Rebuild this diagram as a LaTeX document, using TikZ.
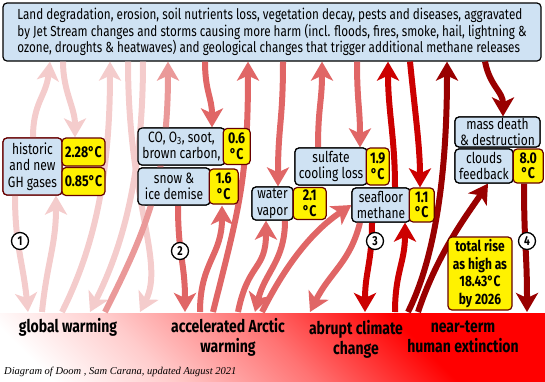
\documentclass[tikz,border=0pt]{standalone}
\usepackage{fontspec}
\setmainfont[FakeStretch=0.8]{Fira Sans}
\setsansfont[FakeStretch=0.8]{Fira Sans}
\newfontfamily\sigfont{Liberation Serif}
\usetikzlibrary{arrows.meta,positioning}
\definecolor{lr3}{HTML}{F4CCCC}
\definecolor{lr2}{HTML}{EA9999}
\definecolor{lr1}{HTML}{E06666}
\definecolor{dr1}{HTML}{CC0000}
\definecolor{dr2}{HTML}{990000}
\definecolor{dr3}{HTML}{660000}
\definecolor{lb3}{HTML}{CFE2F3}
\pgfdeclareverticalshading{stripfade}{100bp}{color(0bp)=(white); color(35bp)=(white); color(42bp)=(red!20!white); color(50.5bp)=(red!55!white); color(59bp)=(red); color(100bp)=(red)}
\newcommand{\bx}{\fontsize{15}{16.5}\selectfont}
\tikzset{
  feed/.style={line width=6pt, -{Stealth[length=19pt, width=22pt, inset=5pt]}},
  gw/.style={feed, draw=lr3},
  aw/.style={feed, draw=lr1},
  ac/.style={feed, draw=dr1},
  hx/.style={feed, draw=dr2},
  cause/.style={draw=black, fill=lb3, rounded corners=4pt, line width=1.2pt, align=center, inner sep=1pt, font=\bx},
  temp/.style={draw=dr3, fill=yellow, rounded corners=4pt, line width=1.2pt, align=center, inner sep=1pt, font=\fontsize{15.5}{15.5}\selectfont\bfseries},
  stage/.style={align=center, inner sep=0pt, font=\fontsize{17.5}{20}\selectfont\bfseries},
  num/.style={circle, draw=black, line width=1.3pt, fill=white, inner sep=0pt, minimum size=17pt, font=\fontsize{13}{13}\selectfont\bfseries},
}

\begin{document}
\begin{tikzpicture}[x=1pt, y=-1pt]
  \useasboundingbox (0,0) rectangle (545,381);
  % red band at the bottom
  \begin{scope}
    \clip (0,313) rectangle (545,381);
    \shade[shading=stripfade, shading angle=-45] (272,347) +(-300,-300) rectangle +(300,300);
  \end{scope}
  \coordinate (ground) at (0,312);

  \node[cause, minimum width=538pt, minimum height=58pt, font=\fontsize{14.6}{16.5}\selectfont, align=left] (banner) at (272,32) {Land degradation, erosion, soil nutrients loss, vegetation decay, pests and diseases, aggravated\\by Jet Stream changes and storms causing more harm (incl. floods, fires, smoke, hail, lightning \&\\ozone, droughts \& heatwaves) and geological changes that trigger additional methane releases};

  \node[cause, draw=dr3, minimum width=59pt, minimum height=57pt] (hist) at (32.5,166.5) {historic\\and new\\GH gases};
  \node[cause, minimum width=87pt, minimum height=37pt] (co) at (181.5,146.5) {CO, O\textsubscript{3}, soot,\\brown carbon,};
  \node[cause, minimum width=72pt, minimum height=37pt] (snow) at (174,186.5) {snow \&\\ice demise};
  \node[cause, minimum width=41pt, minimum height=33pt] (water) at (272.5,203.5) {water\\vapor};
  \node[cause, minimum width=72pt, minimum height=37pt] (sulfate) at (331,166.5) {sulfate\\cooling loss};
  \node[cause, minimum width=58pt, minimum height=34pt] (seafloor) at (381,205) {seafloor\\methane};
  \node[cause, minimum width=85pt, minimum height=30pt] (mass) at (497.5,132) {mass death\\\& destruction};
  \node[cause, minimum width=58pt, minimum height=34pt] (clouds) at (484,166) {clouds\\feedback};

  % feedback arrows, lightest first
  \draw[gw] (hist.north -| 33,0) .. controls +(0,-35) and +(-4,35) .. (banner.south -| 50,0);
  \draw[gw] (banner.south -| 63,0) .. controls +(0,30) and +(0,-30) .. (hist.north -| 75,0);
  \draw[gw] (hist.south -| 15,0) .. controls +(0,50) and +(-5,-50) .. (ground -| 28,0);
  \draw[gw] (ground -| 42,0) .. controls +(5,-50) and +(0,50) .. (hist.south -| 56,0);
  \draw[gw] (ground -| 62,0) .. controls +(30,-60) and +(0,120) .. (banner.south -| 110,0);
  \draw[gw] (banner.south -| 143,0) .. controls +(0,120) and +(30,-60) .. (ground -| 90,0);
  \draw[gw] (banner.south -| 128,0) .. controls +(0,140) and +(25,-50) .. (ground -| 140,0);
  \draw[gw, draw=lr2] (ground -| 105,0) .. controls +(40,-80) and +(0,120) .. (banner.south -| 168,0);

  \draw[aw] (banner.south -| 205,0) .. controls +(0,30) and +(0,-30) .. (co.north -| 212,0);
  \draw[aw] (snow.south -| 178,0) .. controls +(0,50) and +(0,-50) .. (ground -| 185,0);
  \draw[aw] (ground -| 200,0) .. controls +(0,-50) and +(0,50) .. (snow.south -| 222,0);
  \draw[aw] (ground -| 213,0) .. controls +(25,-100) and +(0,120) .. (banner.south -| 248,0);
  \draw[aw] (banner.south -| 283,0) .. controls +(0,60) and +(0,-60) .. (water.north -| 278,0);
  \draw[aw] (ground -| 238,0) .. controls +(10,-50) and +(0,50) .. (water.south -| 266,0);
  \draw[aw] (water.south -| 285,0) .. controls +(0,40) and +(10,-40) .. (ground -| 255,0);
  \draw[aw] (sulfate.north -| 318,0) .. controls +(0,-40) and +(0,40) .. (banner.south -| 322,0);
  \draw[aw] (banner.south -| 357,0) .. controls +(0,40) and +(0,-40) .. (sulfate.north -| 360,0);
  \draw[aw] (ground -| 262,0) .. controls +(30,-60) and +(-30,20) .. (seafloor.west);
  \draw[aw] (seafloor.south -| 360,0) .. controls +(-10,40) and +(20,-40) .. (ground -| 310,0);

  \draw[ac] (seafloor.north -| 395,0) .. controls +(0,-50) and +(0,50) .. (banner.south -| 388,0);
  \draw[ac] (banner.south -| 410,0) .. controls +(5,50) and +(0,-40) .. (seafloor.north -| 420,0);
  \draw[ac] (seafloor.south -| 372,0) .. controls +(0,40) and +(0,-40) .. (ground -| 365,0);
  \draw[ac] (ground -| 395,0) .. controls +(0,-40) and +(0,40) .. (seafloor.south -| 405,0);

  \draw[hx] (ground -| 408,0) .. controls +(30,-60) and +(0,100) .. (banner.south -| 447,0);
  \draw[hx] (banner.south -| 485,0) .. controls +(5,25) and +(0,-25) .. (mass.north -| 503,0);
  \draw[hx] (ground -| 418,0) .. controls +(20,-60) and +(-20,30) .. (clouds.south -| 488,0);
  \draw[hx] (clouds.south -| 524,0) .. controls +(0,60) and +(0,-60) .. (ground -| 527,0);

  % boxes drawn again on top of the arrows
  \node[cause, draw=dr3, minimum width=59pt, minimum height=57pt] at (hist) {historic\\and new\\GH gases};
  \node[temp, minimum width=43pt, minimum height=28pt] (t228) at (83.5,152) {2.28°C};
  \node[temp, minimum width=43pt, minimum height=28pt] (t085) at (83.5,181.5) {0.85°C};
  \node[cause, minimum width=87pt, minimum height=37pt] at (co) {CO, O\textsubscript{3}, soot,\\brown carbon,};
  \node[temp, minimum width=27pt, minimum height=36pt, right=-3pt of co] (t06) {0.6\\°C};
  \node[cause, minimum width=72pt, minimum height=37pt] at (snow) {snow \&\\ice demise};
  \node[temp, minimum width=29pt, minimum height=35pt, right=-2pt of snow] (t16) {1.6\\°C};
  \node[cause, minimum width=41pt, minimum height=33pt] at (water) {water\\vapor};
  \node[temp, minimum width=33pt, minimum height=32pt, right=-1pt of water] (t21) {2.1\\°C};
  \node[cause, minimum width=72pt, minimum height=37pt] at (sulfate) {sulfate\\cooling loss};
  \node[temp, minimum width=23pt, minimum height=37pt, right=-2pt of sulfate] (t19) {1.9\\°C};
  \node[cause, minimum width=58pt, minimum height=34pt] at (seafloor) {seafloor\\methane};
  \node[temp, minimum width=25pt, minimum height=34pt, right=-2pt of seafloor] (t11) {1.1\\°C};
  \node[cause, minimum width=85pt, minimum height=30pt] at (mass) {mass death\\\& destruction};
  \node[cause, minimum width=58pt, minimum height=34pt] at (clouds) {clouds\\feedback};
  \node[temp, minimum width=30pt, minimum height=34pt, right=-1pt of clouds] (t80) {8.0\\°C};
  \node[temp, minimum width=64pt, minimum height=73pt, font=\fontsize{15}{17.5}\selectfont\bfseries] (total) at (480,273.5) {total rise\\as high as\\18.43°C\\by 2026};

  \node[num] (n1) at (20,241) {1};
  \node[num] (n2) at (180,251) {2};
  \node[num] (n3) at (375,241) {3};
  \node[num] (n4) at (527,241) {4};

  \node[stage] (gwl) at (68,327) {global warming};
  \node[stage] (awl) at (228,337) {accelerated Arctic\\warming};
  \node[stage] (acl) at (356,339) {abrupt climate\\change};
  \node[stage] (hxl) at (463,337) {near-term\\human extinction};
  \node[anchor=west, inner sep=0pt, font=\sigfont\itshape\fontsize{10.5}{12}\selectfont] (credit) at (4,372) {Diagram of Doom , Sam Carana, updated August 2021};
\end{tikzpicture}
\end{document}
